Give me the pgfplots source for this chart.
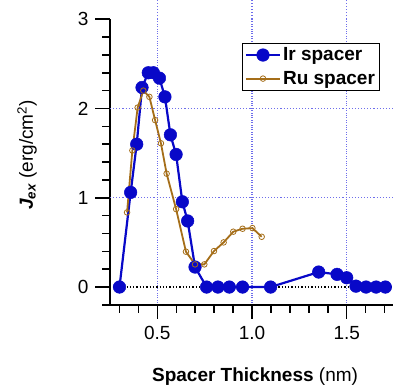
\documentclass[border=0pt]{standalone}
\usepackage{fontspec}
\setmainfont{Liberation Sans}
\usepackage{pgfplots}
\pgfplotsset{compat=1.18}
\usetikzlibrary{calc}
\definecolor{irblue}{RGB}{8,8,200}
\definecolor{rubrown}{RGB}{165,110,25}
\definecolor{gridc}{RGB}{110,110,235}
\begin{document}
\begin{tikzpicture}[font=\fontsize{19}{22}\selectfont]
\begin{axis}[
  x=189.4pt, y=89.3pt,
  xmin=0.25, xmax=1.744, ymin=-0.2, ymax=3,
  clip=false,
  axis x line*=bottom, axis y line*=left,
  axis line style={line width=1.8pt,-},
  xtick={0.5,1.0,1.5}, xticklabels={0.5,1.0,1.5},
  ytick={0,1,2,3}, yticklabels={0,1,2,3},
  xtick align=outside, ytick align=outside,
  tickwidth=14pt,
  tick style={draw=none},
  xticklabel style={yshift=-4pt},
  yticklabel style={xshift=-4pt},
  xmajorgrids=true, ymajorgrids=false,
  major grid style={gridc, dotted, line width=1.1pt},
  xlabel={\textbf{Spacer Thickness} (nm)},
  xlabel style={at={(axis cs:1.016,-1.062)}, anchor=base},
  ylabel={\textbf{\textit{J\textsubscript{ex}}} (erg/cm\textsuperscript{2})},
  ylabel style={at={(axis cs:-0.157,1.48)}, anchor=base},
  legend style={at={(axis cs:0.947,2.735)}, anchor=north west, draw=black, line width=0.8pt,
    font=\fontsize{19}{22}\selectfont\bfseries, row sep=5pt, inner sep=2.5pt},
  legend cell align=left,
  legend image code/.code={\draw[mark repeat=2,mark phase=2,#1] plot coordinates {(0pt,0pt) (17pt,0pt) (34pt,0pt)};},
]
\coordinate (BL) at (axis cs:-0.331,-1.096);
\coordinate (TR) at (axis cs:1.755,3.215);
\coordinate (O) at (axis cs:0.25,-0.2);
\coordinate (XU) at (axis cs:1.25,-0.2);
\coordinate (YU) at (axis cs:0.25,0.8);
\draw[gridc, dotted, line width=1.1pt] (axis cs:0.5,3) -- (axis cs:0.5,3.215);
\draw[gridc, dotted, line width=1.1pt] (axis cs:1.0,3) -- (axis cs:1.0,3.215);
\draw[gridc, dotted, line width=1.1pt] (axis cs:1.5,3) -- (axis cs:1.5,3.215);
\draw[gridc, dotted, line width=1.1pt] (axis cs:0.25,1) -- (axis cs:1.755,1);
\draw[gridc, dotted, line width=1.1pt] (axis cs:0.25,2) -- (axis cs:1.755,2);
\addplot[black, dotted, line width=1.3pt, forget plot] coordinates {(0.25,0) (1.744,0)};
\addplot[irblue, line width=2.2pt, mark=*, mark size=6.3pt, mark options={fill=irblue, line width=0.5pt}] coordinates {
(0.300,0) (0.359,1.06) (0.391,1.60) (0.419,2.235) (0.452,2.40) (0.479,2.40) (0.511,2.34)
(0.540,2.13) (0.569,1.705) (0.599,1.485) (0.632,0.955) (0.660,0.74) (0.699,0.224)
(0.760,0) (0.820,0) (0.880,0) (0.950,0) (1.098,0) (1.352,0.168) (1.449,0.142)
(1.500,0.104) (1.549,0.01) (1.602,0) (1.655,0) (1.704,0)
};
\addlegendentry{Ir spacer}
\addplot[rubrown, line width=1.8pt, mark=o, mark size=2.8pt, mark options={fill=white, line width=0.8pt}] coordinates {
(0.340,0.836) (0.368,1.53) (0.396,2.01) (0.426,2.20) (0.458,2.13) (0.488,1.87)
(0.519,1.61) (0.549,1.27) (0.599,0.873) (0.651,0.396) (0.699,0.254) (0.748,0.254)
(0.799,0.403) (0.850,0.50) (0.901,0.62) (0.950,0.653) (1.002,0.66) (1.051,0.563)
};
\addlegendentry{Ru spacer}
\end{axis}
\begin{scope}[line width=1.5pt, black]
\foreach \t in {0.05,0.15,0.35,0.45,0.55,0.65,0.75,0.85,0.95,1.05,1.15,1.25,1.35,1.45}{
  \draw ($(O)!\t!(XU)$) -- ++(0pt,-8pt);}
\foreach \t in {0.25,0.75,1.25}{
  \draw ($(O)!\t!(XU)$) -- ++(0pt,-14pt);}
\foreach \t in {0,0.4,0.6,0.8,1.0,1.4,1.6,1.8,2.0,2.4,2.6,2.8,3.0}{
  \draw ($(O)!\t!(YU)$) -- ++(-8pt,0pt);}
\foreach \t in {0.2,1.2,2.2,3.2}{
  \draw ($(O)!\t!(YU)$) -- ++(-15pt,0pt);}
\end{scope}
\pgfresetboundingbox
\path (BL) rectangle (TR);
\end{tikzpicture}
\end{document}
